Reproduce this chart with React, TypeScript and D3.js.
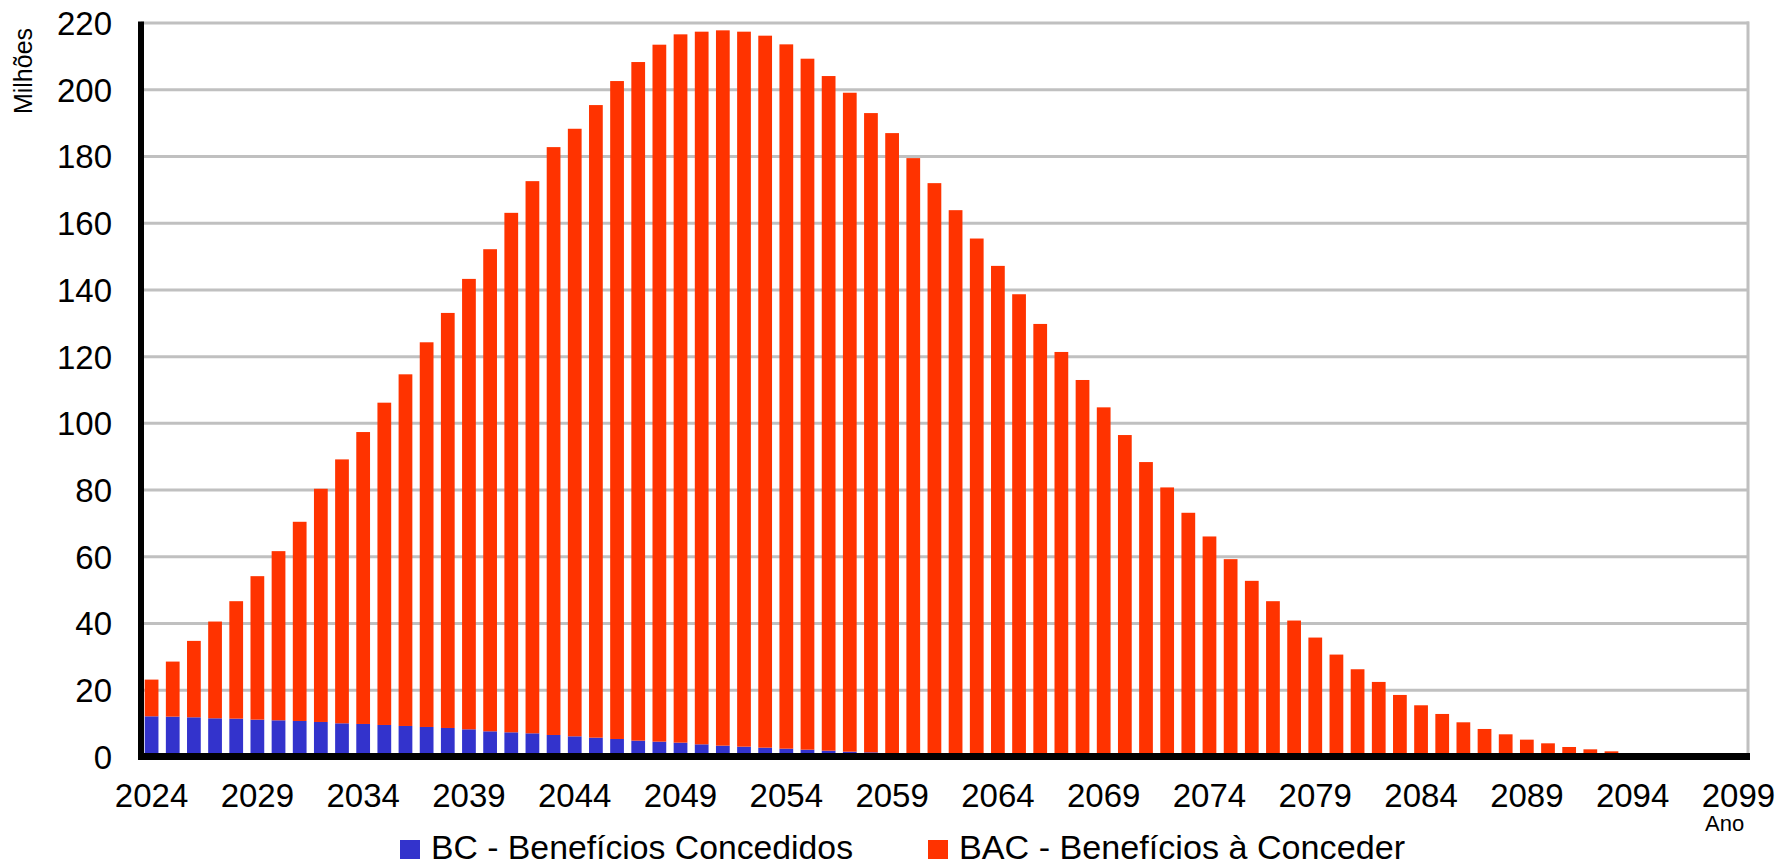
import React from "react";
import * as d3 from "d3";

const years: number[] = d3.range(2024, 2100);

// Total height of each stacked bar (BC + BAC), in millions
const totals: number[] = [
  23.2, 28.6, 34.8, 40.6, 46.7, 54.2, 61.7, 70.5, 80.4, 89.2,
  97.4, 106.2, 114.7, 124.3, 133.1, 143.3, 152.2, 163.1, 172.6, 182.8,
  188.3, 195.4, 202.6, 208.3, 213.5, 216.6, 217.4, 217.8, 217.4, 216.2,
  213.6, 209.3, 204.1, 199.1, 193.0, 187.0, 179.5, 172.0, 163.9, 155.4,
  147.2, 138.7, 129.8, 121.4, 113.0, 104.8, 96.5, 88.4, 80.8, 73.2,
  66.1, 59.3, 52.8, 46.7, 40.9, 35.8, 30.7, 26.3, 22.5, 18.6,
  15.5, 12.9, 10.4, 8.4, 6.8, 5.2, 4.1, 3.0, 2.3, 1.7,
  1.2, 0.6, 0.3, 0.1, 0, 0,
];

// BC - Benefícios Concedidos (blue part)
const bcValues: number[] = [
  12.2, 12.1, 11.9, 11.6, 11.5, 11.2, 11.0, 10.8, 10.5, 10.1,
  9.9, 9.6, 9.3, 9.0, 8.7, 8.3, 7.7, 7.4, 7.1, 6.6,
  6.2, 5.8, 5.4, 4.9, 4.6, 4.3, 3.8, 3.4, 3.1, 2.8,
  2.5, 2.2, 1.9, 1.6, 1.4, 1.2, 1.1, 0.9, 0.7, 0.6,
  0.5, 0.4, 0.3, 0.2, 0.15, 0.1, 0, 0, 0, 0,
  0, 0, 0, 0, 0, 0, 0, 0, 0, 0,
  0, 0, 0, 0, 0, 0, 0, 0, 0, 0,
  0, 0, 0, 0, 0, 0,
];

// BAC - Benefícios à Conceder (orange part)
const bacValues: number[] = totals.map((t, i) => Math.max(0, t - bcValues[i]));

const yTicks: number[] = d3.range(0, 221, 20);
const xTickYears: number[] = d3.range(2024, 2100, 5);

const seriesNames = ["BC - Benefícios Concedidos", "BAC - Benefícios à Conceder"];
const seriesColors = ["#3333CC", "#FF3300"];

const W = 1779;
const H = 866;
const FONT = "'Liberation Sans', Arial, Helvetica, sans-serif";

export default function App() {
  const left = 141;
  const right = 1749;
  const top = 23;
  const bottom = 757;

  const x = d3
    .scaleBand<number>()
    .domain(years)
    .range([left, right])
    .paddingInner(0.35)
    .paddingOuter(0.175);
  const y = d3.scaleLinear().domain([0, 220]).range([bottom, top]);

  const table = years.map((yr, i) => ({ year: yr, bc: bcValues[i], bac: bacValues[i] }));
  const stack = d3.stack<any>().keys(["bc", "bac"]);
  const layers = stack(table);

  return (
    <svg
      width={W}
      height={H}
      style={{ position: "absolute", left: 0, top: 0, background: "#fff" }}
      fontFamily={FONT}
    >
      {/* gridlines */}
      {yTicks.map((t) => (
        <line key={"g" + t} x1={left} x2={right} y1={y(t)} y2={y(t)} stroke="#C0C0C0" strokeWidth={3} />
      ))}
      <line x1={right - 1} x2={right - 1} y1={top - 1.5} y2={bottom} stroke="#C0C0C0" strokeWidth={3} />

      {/* bars */}
      {layers.map((layer, li) => (
        <g key={"l" + li} fill={seriesColors[li]}>
          {layer.map((d, i) => {
            const h = y(d[0]) - y(d[1]);
            if (h <= 0) return null;
            return (
              <rect
                key={i}
                x={x(years[i])}
                y={y(d[1])}
                width={x.bandwidth()}
                height={h}
              />
            );
          })}
        </g>
      ))}

      {/* axes */}
      <line x1={left} x2={left} y1={top - 1.5} y2={bottom + 3} stroke="#000" strokeWidth={6} />
      <line x1={left - 3} x2={right + 1} y1={bottom - 0.5} y2={bottom - 0.5} stroke="#000" strokeWidth={7} />

      {/* y tick labels */}
      {yTicks.map((t) => (
        <text key={"yt" + t} x={112} y={y(t)} dy="0.36em" textAnchor="end" fontSize={33} fill="#000">
          {t}
        </text>
      ))}

      {/* x tick labels */}
      {xTickYears.map((yr) => (
        <text
          key={"xt" + yr}
          x={(x(yr) as number) + x.bandwidth() / 2}
          y={807}
          textAnchor="middle"
          fontSize={33}
          fill="#000"
        >
          {yr}
        </text>
      ))}

      {/* axis titles */}
      <text transform="translate(32,71) rotate(-90)" textAnchor="middle" fontSize={25} fill="#000">
        Milhões
      </text>
      <text x={1705} y={831} fontSize={22} fill="#000">
        Ano
      </text>

      {/* legend */}
      <rect x={400} y={840} width={20} height={19} fill={seriesColors[0]} />
      <text x={431} y={859} fontSize={34} textLength={422} lengthAdjust="spacingAndGlyphs" fill="#000">
        {seriesNames[0]}
      </text>
      <rect x={928} y={840} width={20} height={19} fill={seriesColors[1]} />
      <text x={959} y={859} fontSize={34} textLength={446} lengthAdjust="spacingAndGlyphs" fill="#000">
        {seriesNames[1]}
      </text>
    </svg>
  );
}
